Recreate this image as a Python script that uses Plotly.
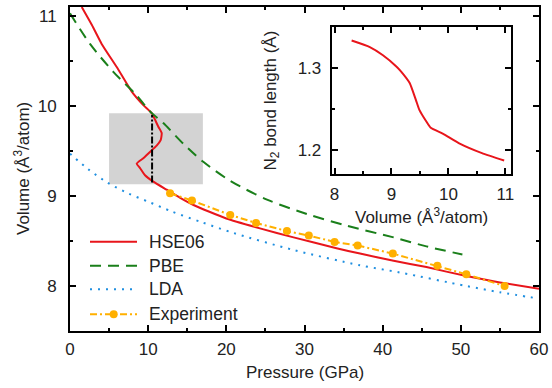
import plotly.graph_objects as go

# ---------------- data ----------------
hse_pressure = [1.5, 2.8, 4.05, 6.0, 7.9, 9.38, 10.45, 11.3, 11.73, 11.6, 11.09, 10.23, 9.38, 8.53,
                8.96, 9.6, 10.66, 12.37, 14.1, 15.8, 20.0, 24.3, 28.6, 34.1, 37.1, 41.4, 45.6,
                50.7, 55.0, 60.0]
hse_volume = [11.1, 10.9, 10.69, 10.43, 10.16, 10.01, 9.92, 9.77, 9.70, 9.62, 9.56, 9.49, 9.42, 9.36,
              9.31, 9.23, 9.16, 9.07, 8.98, 8.90, 8.75, 8.64, 8.54, 8.42, 8.36, 8.28, 8.21,
              8.11, 8.04, 7.97]

pbe_pressure = [0, 2.56, 5.54, 8.5, 10.23, 11.94, 14.5, 17.05, 20.47, 25.2, 30.3, 35.4, 41.4, 45.6, 50.2]
pbe_volume = [11.03, 10.69, 10.38, 10.12, 9.94, 9.81, 9.58, 9.38, 9.17, 8.96, 8.80, 8.67, 8.54, 8.44, 8.35]

lda_pressure = [0, 2.3, 4.77, 7.42, 10.2, 12.96, 16.8, 20.9, 28.6, 37.1, 42.2, 50.7, 55.0, 60.0]
lda_volume = [9.47, 9.30, 9.15, 9.03, 8.93, 8.83, 8.71, 8.59, 8.40, 8.23, 8.15, 8.00, 7.93, 7.86]

exp_pressure = [12.8, 15.6, 20.5, 23.8, 27.75, 30.55, 33.85, 36.8, 41.3, 47.0, 50.7, 55.6]
exp_volume = [9.03, 8.95, 8.79, 8.70, 8.61, 8.56, 8.49, 8.45, 8.36, 8.225, 8.13, 8.0]

transition_pressure = [10.5, 10.5]
transition_volume = [9.15, 9.9]

box_pressure = [5.0, 17.0]
box_volume = [9.13, 9.92]

inset_volume = [8.30, 8.62, 8.85, 9.09, 9.17, 9.32, 9.43, 9.49, 9.61, 9.69, 9.90, 10.19, 10.59, 10.98]
inset_bond = [1.334, 1.326, 1.316, 1.302, 1.296, 1.282, 1.261, 1.249, 1.235, 1.227, 1.220, 1.208, 1.196, 1.187]
inset_band = [9.1, 9.89]

legend_names = ["HSE06", "PBE", "LDA", "Experiment"]

# ---------------- style ----------------
RED = "#e8151b"
GREEN = "#1a7f1a"
BLUE = "#1f8fe0"
ORANGE = "#ffb000"
GRAY = "#d3d3d3"
FONT = "Liberation Sans, Arial, sans-serif"
FS = 17

W, H = 552, 388
L, R, T, B = 70, 13, 7, 57
PW, PH = W - L - R, H - T - B


def px(x):
    return (x - L) / PW


def py(y):
    return (H - B - y) / PH


fig = go.Figure()

fig.add_trace(go.Scatter(x=hse_pressure, y=hse_volume, mode="lines",
                         line=dict(color=RED, width=2, shape="spline", smoothing=0.5),
                         showlegend=False))
fig.add_trace(go.Scatter(x=pbe_pressure, y=pbe_volume, mode="lines",
                         line=dict(color=GREEN, width=2, dash="11px,7px", shape="spline", smoothing=0.8),
                         showlegend=False))
fig.add_trace(go.Scatter(x=lda_pressure, y=lda_volume, mode="lines",
                         line=dict(color=BLUE, width=2, dash="2px,6px", shape="spline", smoothing=0.8),
                         showlegend=False))
fig.add_trace(go.Scatter(x=exp_pressure, y=exp_volume, mode="lines+markers",
                         line=dict(color=ORANGE, width=2, dash="7px,3px,2px,3px"),
                         marker=dict(color=ORANGE, size=8), showlegend=False))
fig.add_trace(go.Scatter(x=transition_pressure, y=transition_volume, mode="lines",
                         line=dict(color="black", width=2, dash="7px,2px,2px,2px"), showlegend=False))

fig.add_trace(go.Scatter(x=inset_volume, y=inset_bond, mode="lines", xaxis="x2", yaxis="y2",
                         line=dict(color=RED, width=2, shape="spline", smoothing=0.5),
                         showlegend=False))

shapes = [
    dict(type="rect", xref="x", yref="y", x0=box_pressure[0], x1=box_pressure[1],
         y0=box_volume[0], y1=box_volume[1], fillcolor=GRAY, line=dict(width=0), layer="below"),
    dict(type="rect", xref="x2", yref="y2 domain", x0=inset_band[0], x1=inset_band[1],
         y0=0, y1=1, fillcolor=GRAY, line=dict(width=0), layer="below"),
]

# manual legend
leg_y = [241.7, 265.7, 289.3, 314.3]
leg_styles = [
    dict(color=RED, width=2),
    dict(color=GREEN, width=2, dash="11px,7px"),
    dict(color=BLUE, width=2, dash="2px,6px"),
    dict(color=ORANGE, width=2, dash="7px,3px,2px,3px"),
]
annotations = []
for name, yy, st in zip(legend_names, leg_y, leg_styles):
    shapes.append(dict(type="line", xref="paper", yref="paper", x0=px(90), x1=px(137),
                       y0=py(yy), y1=py(yy), line=st))
    annotations.append(dict(text=name, xref="paper", yref="paper", x=px(147), y=py(yy),
                            xanchor="left", yanchor="middle", showarrow=False,
                            font=dict(size=17.5, color="#222", family=FONT)))
shapes.append(dict(type="circle", xref="paper", yref="paper", xsizemode="pixel", ysizemode="pixel",
                   xanchor=px(113.7), yanchor=py(314.3), x0=-4, x1=4, y0=-4, y1=4,
                   fillcolor=ORANGE, line=dict(width=0)))

# axis titles
tfont = dict(size=FS, color="#222", family=FONT)
annotations += [
    dict(text="Pressure (GPa)", xref="paper", yref="paper", x=px(304.5), y=py(373),
         xanchor="center", yanchor="middle", showarrow=False, font=tfont),
    dict(text="Volume (Å<sup>3</sup>/atom)", xref="paper", yref="paper", x=px(22), y=py(169),
         xanchor="center", yanchor="middle", textangle=-90, showarrow=False, font=tfont),
    dict(text="Volume (Å<sup>3</sup>/atom)", xref="paper", yref="paper", x=px(421.5), y=py(216),
         xanchor="center", yanchor="middle", showarrow=False, font=tfont),
    dict(text="N<sub>2</sub> bond length (Å)", xref="paper", yref="paper", x=px(272), y=py(100.5),
         xanchor="center", yanchor="middle", textangle=-90, showarrow=False, font=tfont),
]

axis_common = dict(showline=True, linecolor="black", linewidth=2, mirror="ticks",
                   ticks="inside", ticklen=6, tickwidth=1.5, tickcolor="black",
                   showgrid=False, zeroline=False, automargin=False,
                   tickfont=dict(size=FS, color="#222", family=FONT))

fig.update_layout(
    width=W, height=H,
    margin=dict(l=L, r=R, t=T, b=B, pad=0, autoexpand=False),
    paper_bgcolor="white", plot_bgcolor="white",
    shapes=shapes, annotations=annotations,
    xaxis=dict(range=[0, 60], tickvals=[0, 10, 20, 30, 40, 50, 60],
               minor=dict(ticks="inside", dtick=5, tick0=0, ticklen=3, tickcolor="black"),
               ticklabelstandoff=2, **axis_common),
    yaxis=dict(range=[7.5, 11.1], tickvals=[8, 9, 10, 11],
               minor=dict(ticks="inside", dtick=0.5, tick0=0, ticklen=3, tickcolor="black"),
               ticklabelstandoff=8, **axis_common),
    xaxis2=dict(domain=[px(331.7), px(511)], anchor="y2", range=[7.95, 11.1],
                tickvals=[8, 9, 10, 11],
                minor=dict(ticks="inside", dtick=0.5, tick0=0, ticklen=3, tickcolor="black"),
                ticklabelstandoff=3, **axis_common),
    yaxis2=dict(domain=[py(174.3), py(26.7)], anchor="x2", range=[1.17, 1.351],
                tickvals=[1.2, 1.3], ticktext=["1.2", "1.3"],
                minor=dict(ticks="inside", dtick=0.05, tick0=0, ticklen=3, tickcolor="black"),
                ticklabelstandoff=5, **axis_common),
)

fig.write_html("out.html", config={"displayModeBar": False},
               post_script="document.body.style.margin='0';document.body.style.padding='0';")
